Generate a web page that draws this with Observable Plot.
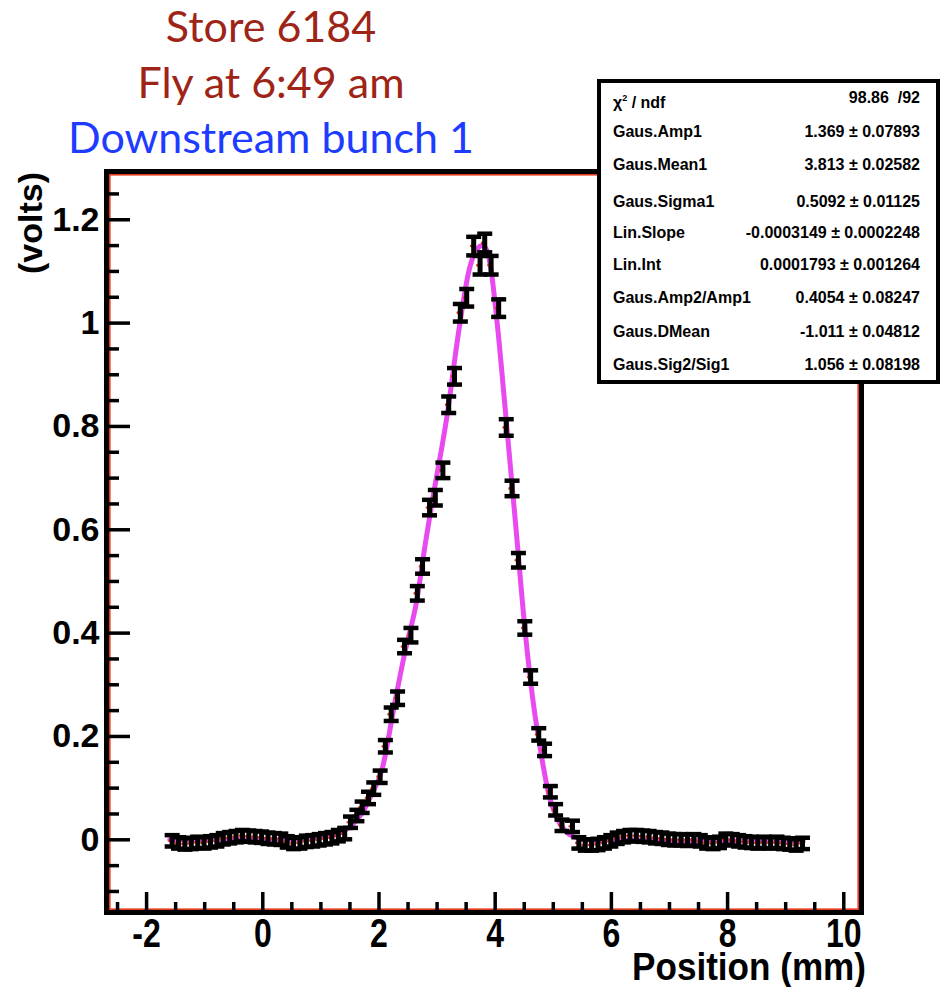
<!DOCTYPE html>
<html><head><meta charset="utf-8">
<script src="https://cdn.jsdelivr.net/npm/d3@7"></script>
<script src="https://cdn.jsdelivr.net/npm/@observablehq/plot@0.6"></script>
<style>
body{margin:0;background:#fff;}
#wrap{position:relative;width:942px;height:987px;overflow:hidden;background:#fff;}
#wrap svg.plot{position:absolute;left:0;top:0;}
.title{position:absolute;left:0;width:542px;text-align:center;font-family:Lato,"Open Sans",sans-serif;font-size:43px;line-height:43px;white-space:nowrap;}
#stats{position:absolute;left:597px;top:79px;width:343px;height:305px;box-sizing:border-box;border:4px solid #000;background:#fff;font-family:"Liberation Sans",Arial,sans-serif;font-weight:bold;font-size:16px;color:#000;}
#stats .row{position:absolute;left:12px;right:16px;height:20px;line-height:20px;}
#stats .row .n{position:absolute;left:0;}
#stats .row .v{position:absolute;right:0;white-space:pre;}
#over{position:absolute;left:0;top:0;pointer-events:none;}
</style></head><body><div id="wrap"></div>
<script>
// ---- titles ----
const titleLines = ["Store 6184", "Fly at 6:49 am", "Downstream bunch 1"];
const titleColors = ["#9e2418", "#9e2418", "#1e3cff"];

// ---- measured points: position (mm), signal (volts), error (volts) ----
const posX = [
  -1.56, -1.45, -1.34, -1.23, -1.12, -1.01, -0.90, -0.79, -0.68, -0.57,
  -0.46, -0.35, -0.24, -0.13, -0.02, 0.09, 0.20, 0.31, 0.42, 0.53,
  0.64, 0.75, 0.86, 0.97, 1.08, 1.19, 1.30, 1.41,
  1.51, 1.62, 1.71, 1.82, 1.91, 2.02,
  2.11, 2.21, 2.32, 2.44, 2.55, 2.66, 2.75, 2.87, 2.97, 3.10,
  3.20, 3.30, 3.40, 3.51, 3.63, 3.74, 3.82, 3.93, 4.06, 4.19,
  4.29, 4.40, 4.51, 4.61, 4.75, 4.85, 4.95, 5.04, 5.15, 5.33,
  5.44, 5.55, 5.66, 5.77, 5.88, 5.99, 6.10, 6.21, 6.32, 6.43,
  6.54, 6.65, 6.76, 6.87, 6.98, 7.09, 7.20, 7.31, 7.42, 7.53,
  7.64, 7.75, 7.86, 7.97, 8.08, 8.19, 8.30, 8.41, 8.52, 8.63,
  8.74, 8.85, 8.96, 9.07, 9.18, 9.29
];
const volts = [
  -0.002, -0.006, -0.008, -0.007, -0.005, -0.006, -0.004, -0.002, 0.002, 0.004,
  0.006, 0.008, 0.007, 0.006, 0.005, 0.003, 0.002, 0.001, -0.004, -0.007,
  -0.006, -0.003, -0.002, 0.000, 0.002, 0.004, 0.008, 0.012,
  0.034, 0.047, 0.063, 0.081, 0.099, 0.122,
  0.181, 0.243, 0.274, 0.374, 0.396, 0.477, 0.529, 0.643, 0.662, 0.715,
  0.842, 0.897, 1.020, 1.049, 1.149, 1.112, 1.155, 1.112, 1.029, 0.798,
  0.680, 0.541, 0.410, 0.315, 0.204, 0.174, 0.093, 0.058, 0.028, 0.026,
  -0.006, -0.010, -0.010, -0.009, -0.006, -0.002, 0.003, 0.006, 0.008, 0.008,
  0.007, 0.006, 0.004, 0.003, 0.001, 0.000, 0.000, -0.001, 0.000, -0.002,
  -0.006, -0.007, -0.005, 0.001, 0.000, -0.002, -0.004, -0.005, -0.006, -0.005,
  -0.006, -0.005, -0.007, -0.008, -0.010, -0.007
];
const errs = [
  0.011, 0.011, 0.011, 0.011, 0.011, 0.011, 0.011, 0.011, 0.011, 0.011,
  0.011, 0.011, 0.011, 0.011, 0.011, 0.011, 0.011, 0.011, 0.011, 0.011,
  0.011, 0.011, 0.011, 0.011, 0.011, 0.011, 0.011, 0.011,
  0.011, 0.011, 0.011, 0.012, 0.012, 0.012,
  0.012, 0.013, 0.013, 0.013, 0.014, 0.014, 0.014, 0.015, 0.015, 0.015,
  0.016, 0.016, 0.017, 0.017, 0.018, 0.018, 0.018, 0.018, 0.017, 0.016,
  0.015, 0.014, 0.013, 0.013, 0.012, 0.012, 0.011, 0.011, 0.011, 0.011,
  0.011, 0.011, 0.011, 0.011, 0.011, 0.011, 0.011, 0.011, 0.011, 0.011,
  0.011, 0.011, 0.011, 0.011, 0.011, 0.011, 0.011, 0.011, 0.011, 0.011,
  0.011, 0.011, 0.011, 0.011, 0.011, 0.011, 0.011, 0.011, 0.011, 0.011,
  0.011, 0.011, 0.011, 0.011, 0.011, 0.011
];

// ---- fitted curve ----
const fitX = [-1.6, -1.0, -0.5, 0.0, 0.5, 1.0, 1.3, 1.5, 1.7, 1.88, 2.05, 2.28, 2.45, 2.65, 2.80,
  2.92, 3.16, 3.40, 3.55, 3.70, 3.78, 3.86, 3.93, 4.03, 4.19, 4.36, 4.52, 4.65, 4.80, 4.92,
  5.05, 5.20, 5.40, 5.70, 6.00, 6.40, 7.00, 7.50, 8.00, 8.50, 9.00, 9.30];
const fitY = [0.000, 0.000, 0.000, 0.000, 0.001, 0.005, 0.012, 0.025, 0.050, 0.089, 0.135, 0.270, 0.365, 0.463, 0.575,
  0.657, 0.812, 1.005, 1.102, 1.145, 1.150, 1.140, 1.102, 1.005, 0.812, 0.600, 0.399, 0.270, 0.160, 0.089,
  0.045, 0.018, 0.004, -0.001, -0.001, -0.001, -0.002, -0.002, -0.002, -0.003, -0.003, -0.003];

// ---- axes ----
const xTicks = [-2, 0, 2, 4, 6, 8, 10];
const xTickLabels = ["-2", "0", "2", "4", "6", "8", "10"];
const yTicks = [0, 0.2, 0.4, 0.6, 0.8, 1.0, 1.2];
const yTickLabels = ["0", "0.2", "0.4", "0.6", "0.8", "1", "1.2"];
const xMinorTicks = [-2.5, -1.5, -1, -0.5, 0.5, 1, 1.5, 2.5, 3, 3.5, 4.5, 5, 5.5, 6.5, 7, 7.5, 8.5, 9, 9.5];
const yMinorTicks = [-0.1, -0.05, 0.05, 0.1, 0.15, 0.25, 0.3, 0.35, 0.45, 0.5, 0.55, 0.65, 0.7, 0.75, 0.85, 0.9, 0.95, 1.05, 1.1, 1.15, 1.25];
const xTitle = "Position (mm)";
const yTitle = "(volts)";

// ---- fit statistics box ----
const statNames = ["χ<sup style='font-size:9px;vertical-align:7px'>2</sup> / ndf", "Gaus.Amp1", "Gaus.Mean1", "Gaus.Sigma1", "Lin.Slope", "Lin.Int", "Gaus.Amp2/Amp1", "Gaus.DMean", "Gaus.Sig2/Sig1"];
const statValues = ["98.86  /92", "1.369 ± 0.07893", "3.813 ± 0.02582", "0.5092 ± 0.01125", "-0.0003149 ± 0.0002248", "0.0001793 ± 0.001264", "0.4054 ± 0.08247", "-1.011 ± 0.04812", "1.056 ± 0.08198"];

// ---------------------------------------------------------------
const W = 942, H = 987;
const mL = 106, mR = 81, mT = 171, mB = 75;
const frameW = W - mL - mR, frameH = H - mT - mB;
const pts = posX.map((x, i) => ({x, y: volts[i], lo: volts[i] - errs[i], hi: volts[i] + errs[i]}));
const fit = fitX.map((x, i) => ({x, y: fitY[i]}));
const cap = {draw(ctx) { ctx.moveTo(-7.5, 0); ctx.lineTo(7.5, 0); }};
const red = "#e8391d";

const chart = Plot.plot({
  width: W, height: H,
  marginLeft: mL, marginRight: mR, marginTop: mT, marginBottom: mB,
  x: {domain: [-2.69, 10.305]},
  y: {domain: [-0.1407, 1.2934]},
  style: {fontFamily: "'Liberation Sans', Arial, sans-serif", fontWeight: "bold", background: "transparent", color: "black"},
  marks: [
    Plot.line(fit, {x: "x", y: "y", stroke: "#e84af0", strokeWidth: 5, curve: "monotone-x"}),
    Plot.dot(pts, {x: "x", y: "y", r: 1.4, fill: red, dx: -2.5}),
    Plot.ruleX(pts, {x: "x", y1: "lo", y2: "hi", stroke: "black", strokeWidth: 5}),
    Plot.dot(pts, {x: "x", y: "lo", symbol: cap, r: 5, fill: "none", stroke: "black", strokeWidth: 4.5}),
    Plot.dot(pts, {x: "x", y: "hi", symbol: cap, r: 5, fill: "none", stroke: "black", strokeWidth: 4.5}),
    Plot.frame({stroke: red, strokeWidth: 1.6, inset: 3.3}),
    Plot.frame({stroke: "black", strokeWidth: 5}),
    Plot.ruleX(xTicks, {x: d => d, insetTop: frameH - 20, stroke: "black", strokeWidth: 3.5}),
    Plot.ruleX(xMinorTicks, {x: d => d, insetTop: frameH - 10, stroke: "black", strokeWidth: 3.5}),
    Plot.ruleY(yTicks, {y: d => d, insetRight: frameW - 24, stroke: "black", strokeWidth: 3.5}),
    Plot.ruleY(yMinorTicks, {y: d => d, insetRight: frameW - 13, stroke: "black", strokeWidth: 3.5}),
    Plot.axisX({ticks: xTicks, tickFormat: (d, i) => xTickLabels[i], tickSize: 0, tickPadding: 6, fontSize: 40,
      fontWeight: "bold", label: null}),
    Plot.axisY({ticks: yTicks, tickFormat: (d, i) => yTickLabels[i], tickSize: 0, tickPadding: 7, fontSize: 34,
      fontWeight: "bold", label: null})
  ]
});
chart.classList.add("plot");
const wrap = document.getElementById("wrap");
wrap.appendChild(chart);

// condense the x tick labels (narrow bold face of the original)
chart.querySelectorAll('g[aria-label="x-axis tick label"] text').forEach(t => {
  const tr = t.getAttribute("transform") || "";
  t.setAttribute("transform", tr + " scale(0.8,1)");
});

// titles
titleLines.forEach((t, i) => {
  const d = document.createElement("div");
  d.className = "title";
  d.style.top = (4 + i * 55.5) + "px";
  d.style.color = titleColors[i];
  d.textContent = t;
  wrap.appendChild(d);
});

// axis titles
const ns = "http://www.w3.org/2000/svg";
const over = document.createElementNS(ns, "svg");
over.setAttribute("id", "over");
over.setAttribute("width", W); over.setAttribute("height", H);
const yt = document.createElementNS(ns, "text");
yt.setAttribute("transform", "translate(42,172) rotate(-90)");
yt.setAttribute("text-anchor", "end");
yt.setAttribute("font-family", "'Liberation Sans', Arial, sans-serif");
yt.setAttribute("font-weight", "bold");
yt.setAttribute("font-size", "34");
yt.textContent = yTitle;
over.appendChild(yt);
const xt = document.createElementNS(ns, "text");
xt.setAttribute("transform", "translate(866,980) scale(0.9,1)");
xt.setAttribute("text-anchor", "end");
xt.setAttribute("font-family", "'Liberation Sans', Arial, sans-serif");
xt.setAttribute("font-weight", "bold");
xt.setAttribute("font-size", "39");
xt.textContent = xTitle;
over.appendChild(xt);
wrap.appendChild(over);

// stats box
const box = document.createElement("div");
box.id = "stats";
const rowY = [98, 132, 165, 202, 233, 265, 298, 332, 365];
statNames.forEach((n, i) => {
  const r = document.createElement("div");
  r.className = "row";
  r.style.top = (rowY[i] - 79 - 4 - 10) + "px";
  r.innerHTML = `<span class="n">${n}</span><span class="v"></span>`;
  r.querySelector(".v").textContent = statValues[i];
  box.appendChild(r);
});
wrap.appendChild(box);
</script></body></html>
